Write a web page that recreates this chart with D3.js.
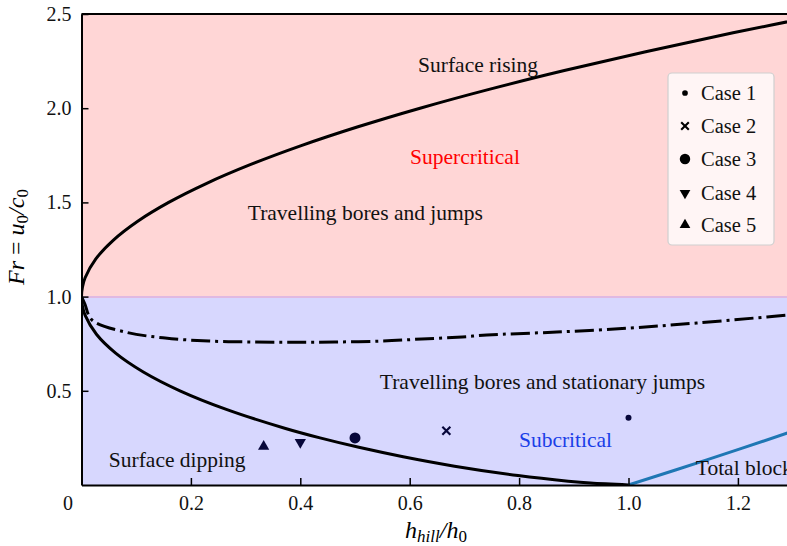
<!DOCTYPE html>
<html lang="en">
<head>
<meta charset="utf-8">
<title>Regime diagram</title>
<script src="https://d3js.org/d3.v7.min.js"></script>
<style>
  body { margin: 0; background: #fff; }
  svg { font-family: "Liberation Serif", "DejaVu Serif", serif; }
</style>
</head>
<body>
<div id="chart"></div>
<script>
// critical curve h_hill/h0 vs Fr (both branches)
var critH  = [1, 0.9304, 0.8897, 0.798, 0.682, 0.588, 0.507, 0.436, 0.373, 0.266, 0.180, 0.113, 0.0624, 0.0273, 0.0067, 0.0017, 0,
              0.0017, 0.0066, 0.0262, 0.0584, 0.1028, 0.1594, 0.228, 0.3084, 0.4004, 0.504, 0.6189, 0.7451, 0.8827, 1.0314, 1.1912, 1.362];
var critFr = [0, 0.01, 0.02, 0.05, 0.1, 0.15, 0.2, 0.25, 0.3, 0.4, 0.5, 0.6, 0.7, 0.8, 0.9, 0.95, 1,
              1.05, 1.1, 1.2, 1.3, 1.4, 1.5, 1.6, 1.7, 1.8, 1.9, 2.0, 2.1, 2.2, 2.3, 2.4, 2.5];

// dash-dot curve
var ddH  = [0, 0.006, 0.019, 0.080, 0.153, 0.233, 0.317, 0.390, 0.463, 0.549, 0.622, 0.696, 0.741, 0.869, 1.003, 1.125, 1.253, 1.30];
var ddFr = [1, 0.962, 0.876, 0.812, 0.780, 0.764, 0.759, 0.758, 0.759, 0.764, 0.775, 0.786, 0.796, 0.812, 0.833, 0.860, 0.892, 0.904];

// total blocking line
var blockH  = [1.0, 1.143, 1.30];
var blockFr = [0.0, 0.133, 0.285];

// cases
var caseNames = ["Case 1", "Case 2", "Case 3", "Case 4", "Case 5"];
var caseH  = [1.0, 0.667, 0.5, 0.4, 0.333];
var caseFr = [0.357, 0.288, 0.250, 0.227, 0.204];

var xTicks = [0, 0.2, 0.4, 0.6, 0.8, 1.0, 1.2];
var yTicks = [0.5, 1.0, 1.5, 2.0, 2.5];

var w = 787, h = 546;
var mLeft = 81.5, mTop = 14, mBottom = 485;

var svg = d3.select('#chart').append('svg')
    .attr('width', w)
    .attr('height', h);

var x = d3.scaleLinear().domain([0, 1.3]).range([mLeft, mLeft + 547 * 1.3]);
var y = d3.scaleLinear().domain([0, 2.5]).range([mBottom, mTop]);

svg.append('clipPath').attr('id', 'clip')
  .append('rect')
    .attr('x', x(0)).attr('y', y(2.5))
    .attr('width', x(1.3) - x(0)).attr('height', y(0) - y(2.5));

var plot = svg.append('g').attr('clip-path', 'url(#clip)');

// regime shading
plot.append('rect')
    .attr('x', x(0)).attr('y', y(2.5))
    .attr('width', x(1.3) - x(0)).attr('height', y(1) - y(2.5))
    .attr('fill', '#ffd6d6');
plot.append('rect')
    .attr('x', x(0)).attr('y', y(1))
    .attr('width', x(1.3) - x(0)).attr('height', y(0) - y(1))
    .attr('fill', '#d7d7fe');
plot.append('line')
    .attr('x1', x(0)).attr('x2', x(1.3))
    .attr('y1', y(1) + 0.5).attr('y2', y(1) + 0.5)
    .attr('stroke', '#e0b9e2').attr('stroke-width', 2);

function pts(a, b) { return a.map(function (d, i) { return [d, b[i]]; }); }

var line = d3.line()
    .x(function (d) { return x(d[0]); })
    .y(function (d) { return y(d[1]); })
    .curve(d3.curveCatmullRom.alpha(0.5));

plot.append('path')
    .attr('d', line(pts(critH, critFr)))
    .attr('fill', 'none').attr('stroke', '#000').attr('stroke-width', 3);

plot.append('path')
    .attr('d', line(pts(ddH, ddFr)))
    .attr('fill', 'none').attr('stroke', '#000').attr('stroke-width', 3)
    .attr('stroke-dasharray', '19,5,3,5');

plot.append('path')
    .attr('d', line(pts(blockH, blockFr)))
    .attr('fill', 'none').attr('stroke', '#1f77b4').attr('stroke-width', 3);

// markers
var markColor = '#07073a';
function marker(g, i, c, scale) {
    if (i === 0) {
        g.append('circle').attr('r', 3 * scale).attr('fill', c);
    } else if (i === 1) {
        g.append('path').attr('d', 'M-4,-4L4,4M-4,4L4,-4')
            .attr('stroke', c).attr('stroke-width', 2.2).attr('fill', 'none')
            .attr('transform', 'scale(' + scale + ')');
    } else if (i === 2) {
        g.append('circle').attr('r', 5.5 * scale).attr('fill', c);
    } else {
        var sym = d3.symbol().type(d3.symbolTriangle).size(55 * scale * scale);
        g.append('path').attr('d', sym())
            .attr('fill', c)
            .attr('transform', i === 3 ? 'rotate(180)' : null);
    }
}
caseH.forEach(function (d, i) {
    var g = plot.append('g').attr('transform', 'translate(' + x(d) + ',' + y(caseFr[i]) + ')');
    marker(g, i, markColor, 1);
});

// annotations
var notes = [
    {t: 'Surface rising', h: 0.725, f: 2.192, a: 'middle', c: '#111'},
    {t: 'Supercritical', h: 0.701, f: 1.704, a: 'middle', c: '#ff0000'},
    {t: 'Travelling bores and jumps', h: 0.304, f: 1.407, a: 'start', c: '#111'},
    {t: 'Travelling bores and stationary jumps', h: 1.140, f: 0.51, a: 'end', c: '#111'},
    {t: 'Subcritical', h: 0.970, f: 0.202, a: 'end', c: '#1a3ee8'},
    {t: 'Surface dipping', h: 0.050, f: 0.096, a: 'start', c: '#111'},
    {t: 'Total blocking', h: 1.123, f: 0.053, a: 'start', c: '#111'}
];
svg.selectAll('text.note').data(notes).enter().append('text')
    .attr('class', 'note')
    .attr('x', function (d) { return x(d.h); })
    .attr('y', function (d) { return y(d.f); })
    .attr('text-anchor', function (d) { return d.a; })
    .attr('fill', function (d) { return d.c; })
    .style('font-size', '21.5px')
    .text(function (d) { return d.t; });

// axes
var xAxis = d3.axisBottom(x).tickValues(xTicks).tickSizeInner(-7).tickSizeOuter(0).tickPadding(11)
    .tickFormat(function (d) { return d === 0 ? '0' : d3.format('.1f')(d); });
var gx = svg.append('g').attr('transform', 'translate(0,' + mBottom + ')').call(xAxis);
gx.selectAll('text').style('font-size', '20px').attr('fill', '#111')
    .attr('dx', function (d) { return d === 0 ? -14 : 0; });

var yAxis = d3.axisLeft(y).tickValues(yTicks).tickSizeInner(-7).tickSizeOuter(0).tickPadding(10)
    .tickFormat(d3.format('.1f'));
var gy = svg.append('g').attr('transform', 'translate(' + mLeft + ',0)').call(yAxis);
gy.selectAll('text').style('font-size', '20px').attr('fill', '#111');

[gx, gy].forEach(function (g) {
    g.selectAll('.tick line').attr('stroke', '#000').attr('stroke-width', 1.5);
    g.select('.domain').attr('stroke', '#000').attr('stroke-width', 2);
    g.style('font-family', '"Liberation Serif", serif');
});
// top spine
svg.append('line')
    .attr('x1', mLeft).attr('x2', w).attr('y1', mTop).attr('y2', mTop)
    .attr('stroke', '#000').attr('stroke-width', 2);

// axis labels
var xl = svg.append('text')
    .attr('x', 436).attr('y', 538)
    .attr('text-anchor', 'middle')
    .style('font-size', '24px').style('font-style', 'italic');
xl.append('tspan').text('h');
xl.append('tspan').attr('baseline-shift', '-25%').style('font-size', '17px').text('hill');
xl.append('tspan').text('/h');
xl.append('tspan').attr('baseline-shift', '-25%').style('font-size', '17px').style('font-style', 'normal').text('0');

var yl = svg.append('text')
    .attr('transform', 'translate(24,' + 237 + ') rotate(-90)')
    .attr('text-anchor', 'middle')
    .style('font-size', '24px').style('font-style', 'italic');
yl.append('tspan').text('Fr');
yl.append('tspan').style('font-style', 'normal').text(' = ');
yl.append('tspan').text('u');
yl.append('tspan').attr('baseline-shift', '-25%').style('font-size', '17px').style('font-style', 'normal').text('0');
yl.append('tspan').text('/c');
yl.append('tspan').attr('baseline-shift', '-25%').style('font-size', '17px').style('font-style', 'normal').text('0');

// legend
var lg = svg.append('g');
lg.append('rect')
    .attr('x', 668).attr('y', 73).attr('width', 106).attr('height', 172)
    .attr('rx', 4)
    .attr('fill', '#fff5f5').attr('stroke', '#cfcfcf').attr('stroke-width', 1.2);
var rowY = [93, 126, 159, 193, 225];
caseNames.forEach(function (name, i) {
    var g = lg.append('g').attr('transform', 'translate(685,' + rowY[i] + ')');
    marker(g, i, '#000', 0.95);
    lg.append('text')
        .attr('x', 701).attr('y', rowY[i] + 7)
        .style('font-size', '20.5px').attr('fill', '#111')
        .text(name);
});
</script>
</body>
</html>
